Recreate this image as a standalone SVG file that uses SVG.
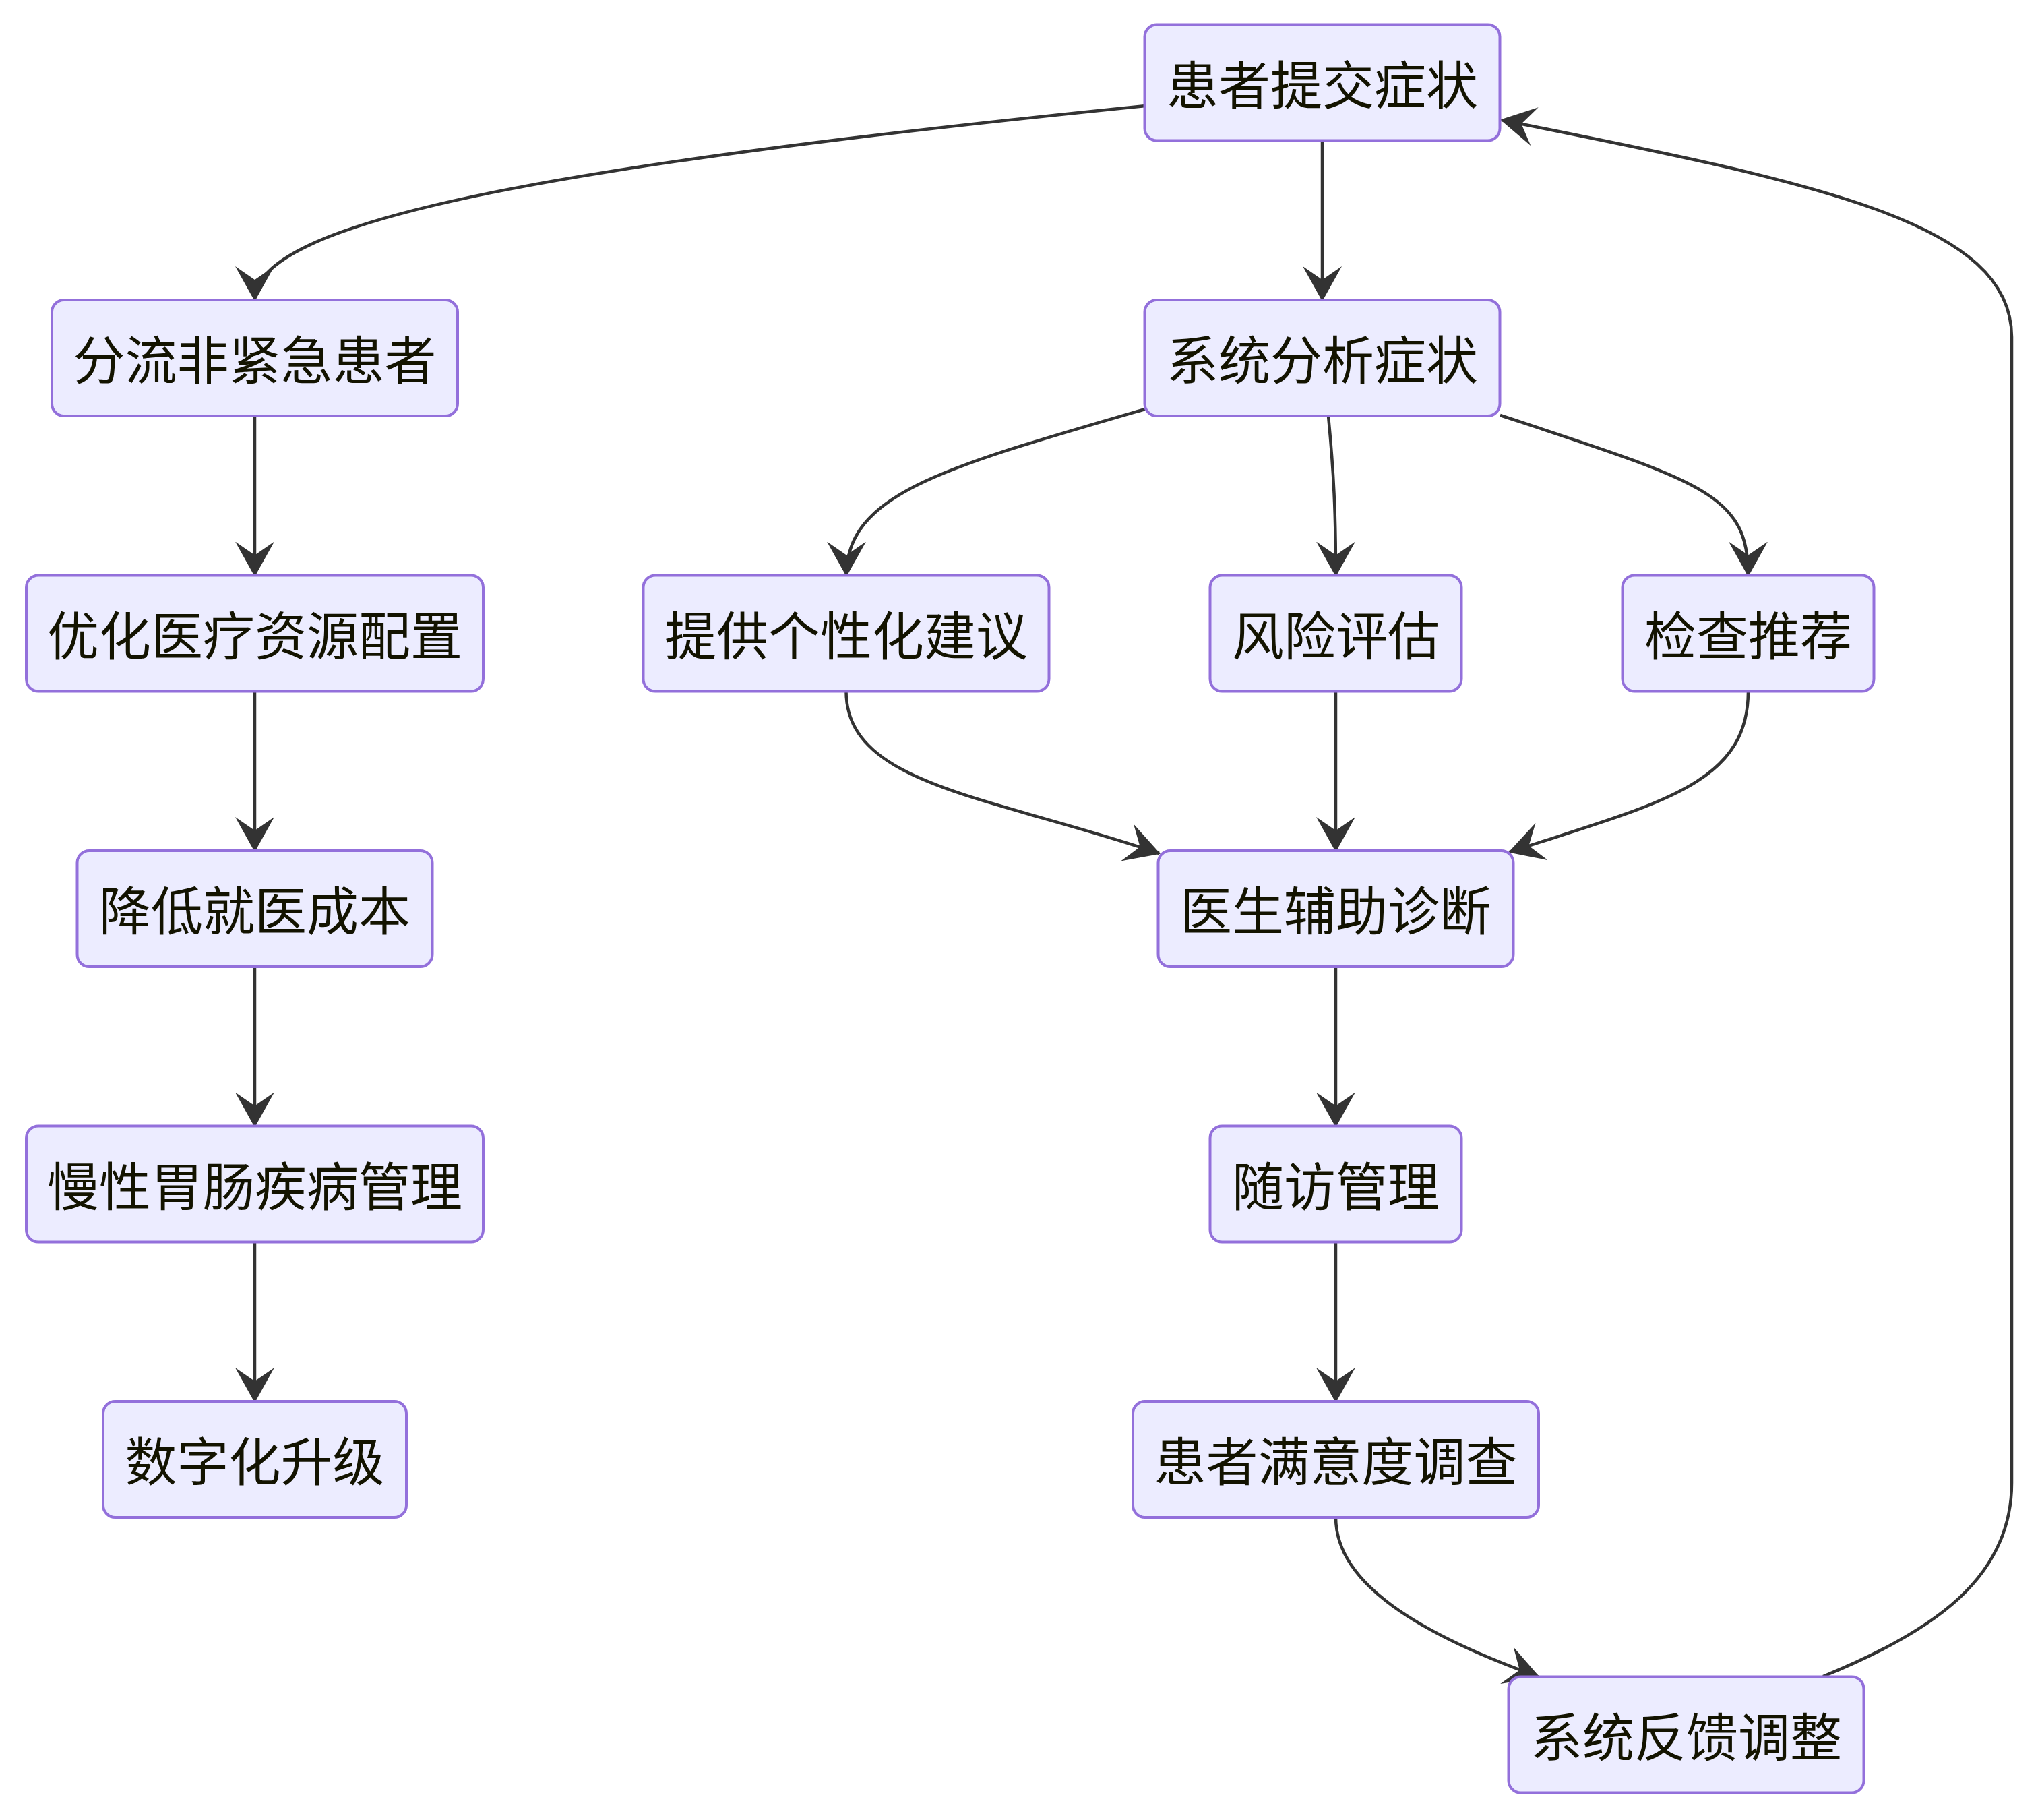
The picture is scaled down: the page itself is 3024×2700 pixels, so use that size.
<svg xmlns="http://www.w3.org/2000/svg" width="3024" height="2700" viewBox="0 0 3024 2700">
<style>
.node rect{fill:#ECECFF;stroke:#9370DB;stroke-width:4}
.node text{font-family:"Noto Sans CJK SC","Noto Sans",sans-serif;font-size:77px;fill:#131300;text-anchor:middle}
.edge{fill:none;stroke:#333333;stroke-width:4.5;marker-end:url(#arrow)}
</style>
<defs>
<marker id="arrow" markerUnits="userSpaceOnUse" viewBox="0 0 52 58" markerWidth="52" markerHeight="58" refX="50" refY="29" orient="auto">
<path d="M0,0 L52,29 L0,58 L20,29 Z" fill="#333333"/>
</marker>
</defs>
<rect width="3024" height="2700" fill="#ffffff"/>
<g id="edges">
<path class="edge" d="M1700,157 C800,247 378,330 378,445"/>
<path class="edge" d="M1962,208.5 L1962,445"/>
<path class="edge" d="M378,617 L378,853.5"/>
<path class="edge" d="M378,1025.5 L378,1262"/>
<path class="edge" d="M378,1434 L378,1670.5"/>
<path class="edge" d="M378,1842.5 L378,2079"/>
<path class="edge" d="M1699,607 C1399,694 1256,733 1256,853.5"/>
<path class="edge" d="M1971,617 C1979,700 1982,760 1982,853.5"/>
<path class="edge" d="M2226,616 C2526,715 2594,733 2594,853.5"/>
<path class="edge" d="M1255.5,1025.5 C1255.5,1165 1470,1181 1720,1266"/>
<path class="edge" d="M1982,1025.5 L1982,1262"/>
<path class="edge" d="M2594,1025.5 C2594,1165 2460,1192 2240,1264"/>
<path class="edge" d="M1982,1434 L1982,1670.5"/>
<path class="edge" d="M1982,1842.5 L1982,2079"/>
<path class="edge" d="M1982,2251 C1982,2340 2083,2416 2283,2487.5"/>
<path class="edge" d="M2705,2487 C2870,2420 2985,2340 2985,2200 L2985,500 C2985,330 2700,272 2228,178"/>
</g>
<g id="n1" class="node"><rect x="1698.5" y="36.5" width="527" height="172" rx="18"/><text x="1962" y="154.5">患者提交症状</text></g>
<g id="n2" class="node"><rect x="77" y="445" width="602" height="172" rx="18"/><text x="378" y="563">分流非紧急患者</text></g>
<g id="n3" class="node"><rect x="1698.5" y="445" width="527" height="172" rx="18"/><text x="1962" y="563">系统分析症状</text></g>
<g id="n4" class="node"><rect x="39" y="853.5" width="678" height="172" rx="18"/><text x="378" y="971.5">优化医疗资源配置</text></g>
<g id="n5" class="node"><rect x="954.5" y="853.5" width="602" height="172" rx="18"/><text x="1255.5" y="971.5">提供个性化建议</text></g>
<g id="n6" class="node"><rect x="1795.5" y="853.5" width="373" height="172" rx="18"/><text x="1982" y="971.5">风险评估</text></g>
<g id="n7" class="node"><rect x="2407.5" y="853.5" width="373" height="172" rx="18"/><text x="2594" y="971.5">检查推荐</text></g>
<g id="n8" class="node"><rect x="114.5" y="1262" width="527" height="172" rx="18"/><text x="378" y="1380">降低就医成本</text></g>
<g id="n9" class="node"><rect x="1718.5" y="1262" width="527" height="172" rx="18"/><text x="1982" y="1380">医生辅助诊断</text></g>
<g id="n10" class="node"><rect x="39" y="1670.5" width="678" height="172" rx="18"/><text x="378" y="1788.5">慢性胃肠疾病管理</text></g>
<g id="n11" class="node"><rect x="1795.5" y="1670.5" width="373" height="172" rx="18"/><text x="1982" y="1788.5">随访管理</text></g>
<g id="n12" class="node"><rect x="153" y="2079" width="450" height="172" rx="18"/><text x="378" y="2197">数字化升级</text></g>
<g id="n13" class="node"><rect x="1681" y="2079" width="602" height="172" rx="18"/><text x="1982" y="2197">患者满意度调查</text></g>
<g id="n14" class="node"><rect x="2238.5" y="2487.5" width="527" height="172" rx="18"/><text x="2502" y="2605.5">系统反馈调整</text></g>
</svg>
